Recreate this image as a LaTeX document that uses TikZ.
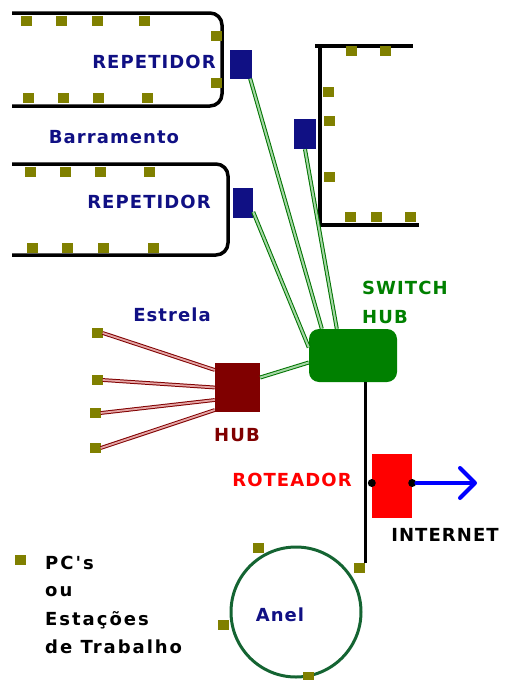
\documentclass[tikz,border=0pt]{standalone}
\usepackage{fontspec}
\setmainfont{DejaVu Sans}
\newfontfamily\labfont[LetterSpace=6]{DejaVu Sans}
\newfontfamily\legfont[LetterSpace=11]{DejaVu Sans}
\usetikzlibrary{arrows.meta}
\definecolor{navyc}{RGB}{16,16,132}
\definecolor{olivec}{RGB}{128,128,0}
\definecolor{swgreen}{RGB}{0,128,0}
\definecolor{hubred}{RGB}{128,0,0}
\definecolor{ringgreen}{RGB}{20,100,50}
\definecolor{lgreen}{RGB}{165,215,165}
\definecolor{pinkc}{RGB}{228,165,165}
\definecolor{routred}{RGB}{255,0,0}
\definecolor{arrblue}{RGB}{0,0,255}
\begin{document}
\begin{tikzpicture}[x=1pt,y=-1pt,
  pc/.style={fill=olivec, minimum width=11pt, minimum height=10pt, inner sep=0pt, draw=none},
  repbox/.style={fill=navyc, minimum width=22pt, minimum height=29pt, inner sep=0pt},
  bus/.style={line width=3.5pt, black},
  gline/.style={draw=swgreen!90!black, double=lgreen, double distance=2pt, line width=1pt},
  rline/.style={draw=hubred, double=pinkc, double distance=1.8pt, line width=1pt},
  lab/.style={font=\labfont\bfseries\fontsize{18}{21}\selectfont, inner sep=0pt},
  leg/.style={font=\legfont\bfseries\fontsize{18}{21}\selectfont, inner sep=0pt, anchor=west},
  dotn/.style={circle, fill=black, minimum size=8pt, inner sep=0pt}
]
\useasboundingbox (0,0) rectangle (508,680);

% buses
\draw[bus, rounded corners=12pt] (12,13) -- (222,13) -- (222,106) -- (12,106);
\draw[bus, rounded corners=12pt] (12,164) -- (228,164) -- (228,255) -- (12,255);
\draw[bus] (315,46) -- (413,46);
\draw[bus] (320,46) -- (320,225) -- (419,225);

% stations bus 1
\foreach \x [count=\i] in {26,61,97,144} \node[pc] (ba\i) at (\x,21) {};
\node[pc] (bar1) at (216,36) {};
\node[pc] (bar2) at (216,83) {};
\foreach \x [count=\i] in {28,63,98,147} \node[pc] (bb\i) at (\x,98) {};
% stations bus 2
\foreach \x [count=\i] in {30,65,100,149} \node[pc] (ca\i) at (\x,172) {};
\foreach \x [count=\i] in {32,67,103,153} \node[pc] (cb\i) at (\x,248) {};
% stations right bus
\node[pc] (da1) at (351,51) {};
\node[pc] (da2) at (385,51) {};
\node[pc] (dl1) at (328,92) {};
\node[pc] (dl2) at (329,121) {};
\node[pc] (dl3) at (329,177) {};
\foreach \x [count=\i] in {350,376,410} \node[pc] (db\i) at (\x,217) {};

% repeaters
\node[repbox] (rep1) at (241,64) {};
\node[repbox, minimum width=20pt, minimum height=30pt] (rep2) at (243,203) {};
\node[repbox, minimum height=30pt] (rep3) at (305,134) {};

% switch, hub, router
\node[fill=swgreen, rounded corners=10pt, minimum width=88pt, minimum height=53pt, inner sep=0pt] (sw) at (353,355.5) {};
\node[fill=hubred, minimum width=45pt, minimum height=49pt, inner sep=0pt] (hub) at (237.5,387.5) {};
\node[fill=routred, minimum width=40pt, minimum height=64pt, inner sep=0pt] (rt) at (392,486) {};

% star stations
\node[pc] (s1) at (97,333) {};
\node[pc] (s2) at (97,380) {};
\node[pc] (s3) at (95,413) {};
\node[pc] (s4) at (95,448) {};

% ring
\node[circle, draw=ringgreen, line width=3pt, minimum size=130pt, inner sep=0pt] (ring) at (296,612) {};
\node[pc] (r1) at (258,548) {};
\node[pc] (r2) at (359,568) {};
\node[pc] (r3) at (223,625) {};
\node[pc] (r4) at (308,677) {};

% green links
\draw[gline] ([xshift=-2pt]rep1.south east) -- ([xshift=13pt]sw.north west);
\draw[gline] (rep3.south) -- ([xshift=28pt]sw.north west);
\draw[gline] ([yshift=-9pt]rep2.east) -- ([yshift=8pt]sw.west);
\draw[gline] ([yshift=-7pt]sw.west) -- ([yshift=10pt]hub.east);

% red links
\draw[rline] (s1.east) -- ([yshift=17.5pt]hub.west);
\draw[rline] (s2.east) -- (hub.west);
\draw[rline] (s3.east) -- ([yshift=-12.5pt]hub.west);
\draw[rline] (s4.east) -- ([yshift=-22.5pt]hub.west);

% switch to ring
\draw[black, line width=3pt] ([xshift=12pt]sw.south) -- ([xshift=12pt]sw.south |- r2.north);
\node[dotn] (d1) at ([yshift=3pt]rt.west) {};
\node[dotn] (d2) at ([yshift=3pt]rt.east) {};
\coordinate (net) at (477,483);
\draw[arrblue, line width=4pt, line cap=round, -{Straight Barb[length=15pt, width=30pt, line join=round, line cap=round]}] (d2) -- (net);

% labels
\node[lab, navyc] (t1) at (154,62) {REPETIDOR};
\node[lab, navyc] (t2) at (149,202) {REPETIDOR};
\node[lab, navyc] (t3) at (114,137) {Barramento};
\node[lab, navyc] (t4) at (172,315) {Estrela};
\node[lab, hubred] (t5) at (237,435) {HUB};
\node[lab, swgreen, anchor=west] (t6) at (362,288) {SWITCH};
\node[lab, swgreen, anchor=west] (t7) at (362,317) {HUB};
\node[lab, routred] (t8) at (292,480) {ROTEADOR};
\node[lab, black] (t9) at (445,535) {INTERNET};
\node[lab, navyc] (t10) at (280,615) {Anel};

% legend
\node[pc] (lg) at (20,560) {};
\node[leg] (l1) at (45,563) {PC's};
\node[leg] (l2) at (45,592) {ou};
\node[leg] (l3) at (45,620) {Estações};
\node[leg] (l4) at (45,647) {de Trabalho};
\end{tikzpicture}
\end{document}
